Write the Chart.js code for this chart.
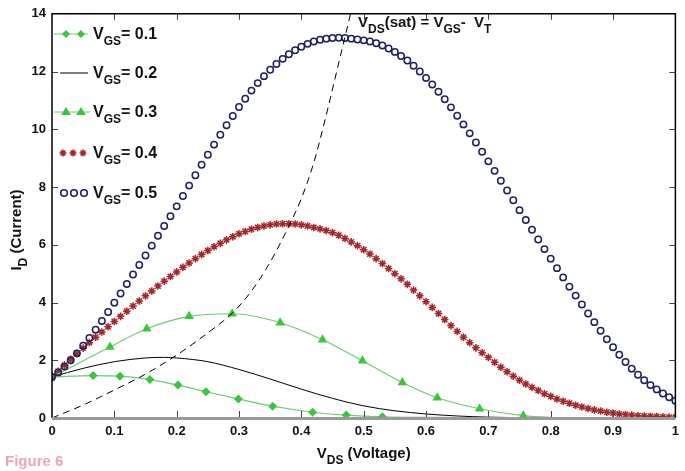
<!DOCTYPE html>
<html>
<head>
<meta charset="utf-8">
<script src="https://cdn.jsdelivr.net/npm/chart.js@4.4.1/dist/chart.umd.min.js"></script>
<style>
html,body{margin:0;padding:0;background:#fff;}
#ivChart{display:block;}
</style>
</head>
<body>
<canvas id="ivChart" width="685" height="471"></canvas>
<script>
// tick labels
const xTicks=[0,0.1,0.2,0.3,0.4,0.5,0.6,0.7,0.8,0.9,1];
const yTicks=[0,2,4,6,8,10,12,14];
const vgsLevels=["0.1","0.2","0.3","0.4","0.5"];

// VGS = 0.1 (diamonds)
const vdsA=[0,0.066,0.109,0.157,0.202,0.247,0.299,0.354,0.418,0.472,0.53,0.6,0.7,0.82];
const idA=[1.42,1.47,1.45,1.33,1.14,0.91,0.66,0.41,0.20,0.10,0.04,0.02,0.01,0];

// VGS = 0.2 (plain line)
const vdsB=[0,0.05,0.1,0.15,0.18,0.2,0.25,0.3,0.35,0.4,0.45,0.5,0.55,0.6,0.65,0.7,0.75,0.8];
const idB=[1.42,1.72,1.95,2.08,2.10,2.08,1.95,1.68,1.35,1.0,0.68,0.42,0.25,0.14,0.07,0.03,0.01,0];

// VGS = 0.3 (triangles)
const vdsC=[0,0.093,0.152,0.220,0.289,0.366,0.434,0.498,0.562,0.618,0.686,0.756,0.82];
const idC=[1.42,2.46,3.09,3.52,3.61,3.30,2.71,1.98,1.23,0.70,0.32,0.08,0];

// VGS = 0.4 and 0.5 share one VDS grid
const vdsGrid=[0,0.01,0.02,0.03,0.04,0.05,0.06,0.07,0.08,0.09,
0.10,0.11,0.12,0.13,0.14,0.15,0.16,0.17,0.18,0.19,
0.20,0.21,0.22,0.23,0.24,0.25,0.26,0.27,0.28,0.29,
0.30,0.31,0.32,0.33,0.34,0.35,0.36,0.37,0.38,0.39,
0.40,0.41,0.42,0.43,0.44,0.45,0.46,0.47,0.48,0.49,
0.50,0.51,0.52,0.53,0.54,0.55,0.56,0.57,0.58,0.59,
0.60,0.61,0.62,0.63,0.64,0.65,0.66,0.67,0.68,0.69,
0.70,0.71,0.72,0.73,0.74,0.75,0.76,0.77,0.78,0.79,
0.80,0.81,0.82,0.83,0.84,0.85,0.86,0.87,0.88,0.89,
0.90,0.91,0.92,0.93,0.94,0.95,0.96,0.97,0.98,0.99,1.00];

const idD=[1.40,1.62,1.83,2.03,2.23,2.42,2.61,2.80,2.98,3.16,
3.34,3.52,3.70,3.88,4.05,4.23,4.40,4.57,4.74,4.90,
5.06,5.22,5.37,5.52,5.66,5.80,5.93,6.05,6.17,6.28,
6.38,6.46,6.54,6.60,6.65,6.69,6.72,6.73,6.73,6.72,
6.69,6.65,6.60,6.55,6.49,6.42,6.33,6.22,6.10,5.97,
5.83,5.68,5.52,5.35,5.18,5.00,4.82,4.63,4.43,4.23,
4.03,3.83,3.62,3.41,3.20,3.00,2.80,2.61,2.43,2.26,
2.10,1.93,1.76,1.60,1.45,1.31,1.18,1.06,0.95,0.84,
0.75,0.66,0.58,0.51,0.44,0.38,0.33,0.28,0.24,0.20,
0.17,0.14,0.12,0.10,0.08,0.07,0.06,0.05,0.04,0.03,0.03];

const idE=[1.42,1.58,1.78,2.00,2.24,2.50,2.77,3.06,3.36,3.67,
3.99,4.31,4.64,4.97,5.30,5.63,5.97,6.31,6.65,6.99,
7.33,7.69,8.05,8.41,8.77,9.12,9.47,9.81,10.14,10.46,
10.77,11.06,11.34,11.60,11.84,12.06,12.26,12.44,12.60,12.74,
12.86,12.96,13.04,13.10,13.14,13.16,13.17,13.16,13.14,13.11,
13.08,13.04,12.98,12.90,12.80,12.68,12.54,12.38,12.20,12.00,
11.78,11.55,11.30,11.04,10.76,10.47,10.17,9.86,9.54,9.22,
8.89,8.56,8.22,7.88,7.54,7.20,6.86,6.52,6.18,5.85,
5.52,5.19,4.87,4.55,4.24,3.93,3.62,3.32,3.02,2.73,
2.45,2.19,1.94,1.71,1.50,1.31,1.14,0.99,0.85,0.72,0.60];

// VDS(sat) locus (dashed)
const vdsSat=[0,0.05,0.1,0.15,0.2,0.25,0.29,0.32,0.35,0.38,0.40,0.42,0.44,0.46,0.48,0.49];
const idSat=[0,0.45,0.97,1.52,2.18,2.95,3.65,4.4,5.4,6.65,7.6,8.85,10.5,12.3,14.1,15.0];

const pts=(xs,ys)=>xs.map((x,i)=>({x:x,y:ys[i]}));

const FONT='"Liberation Sans", Arial, sans-serif';
const GREEN="#3cc43c";
const GREEN_LINE="#74c874";
const RED="#a3282c";
const BLUE="#1d205c";

// text with subscripts: parts = [[text, isSub], ...]
function drawSub(ctx,parts,x,y,size,subSize){
  let cx=x;
  parts.forEach(p=>{
    ctx.font="bold "+(p[1]?subSize:size)+"px "+FONT;
    ctx.fillText(p[0],cx,p[1]?y+Math.round(size*0.4):y);
    cx+=ctx.measureText(p[0]).width;
  });
  return cx-x;
}

function measureSub(ctx,parts,size,subSize){
  let w=0;
  parts.forEach(p=>{
    ctx.font="bold "+(p[1]?subSize:size)+"px "+FONT;
    w+=ctx.measureText(p[0]).width;
  });
  return w;
}

function drawStar(ctx,px,y,r){
  ctx.beginPath();
  ctx.moveTo(px-r,y);ctx.lineTo(px+r,y);ctx.moveTo(px,y-r);ctx.lineTo(px,y+r);
  const d=r*0.7;
  ctx.moveTo(px-d,y-d);ctx.lineTo(px+d,y+d);ctx.moveTo(px-d,y+d);ctx.lineTo(px+d,y-d);
  ctx.stroke();
}

function legendMarker(ctx,i,x,y){
  ctx.save();
  if(i===0){
    ctx.strokeStyle=GREEN_LINE;ctx.lineWidth=1.2;
    ctx.beginPath();ctx.moveTo(x-2,y);ctx.lineTo(x+32,y);ctx.stroke();
    ctx.fillStyle=GREEN;
    [x+10,x+25].forEach(px=>{
      ctx.beginPath();ctx.moveTo(px,y-4);ctx.lineTo(px+4,y);ctx.lineTo(px,y+4);ctx.lineTo(px-4,y);ctx.closePath();ctx.fill();
    });
  }else if(i===1){
    ctx.strokeStyle="#000";ctx.lineWidth=1;
    ctx.beginPath();ctx.moveTo(x+4,y);ctx.lineTo(x+32,y);ctx.stroke();
  }else if(i===2){
    ctx.strokeStyle=GREEN_LINE;ctx.lineWidth=1.2;
    ctx.beginPath();ctx.moveTo(x-2,y);ctx.lineTo(x+34,y);ctx.stroke();
    ctx.fillStyle=GREEN;
    [x+10,x+25].forEach(px=>{
      ctx.beginPath();ctx.moveTo(px,y-5);ctx.lineTo(px+5,y+3);ctx.lineTo(px-5,y+3);ctx.closePath();ctx.fill();
    });
  }else if(i===3){
    ctx.strokeStyle=RED;ctx.lineWidth=1.6;
    [x+7,x+17,x+27].forEach(px=>drawStar(ctx,px,y,3.5));
  }else{
    ctx.strokeStyle=BLUE;ctx.lineWidth=1.6;
    [x+8,x+18,x+28].forEach(px=>{
      ctx.beginPath();ctx.arc(px,y,3.3,0,Math.PI*2);ctx.stroke();
    });
  }
  ctx.restore();
}

const decor={
  id:"decor",
  beforeDraw(chart){
    const ctx=chart.ctx;
    ctx.save();
    ctx.fillStyle="#fff";
    ctx.fillRect(0,0,chart.width,chart.height);
    ctx.restore();
  },
  afterDraw(chart){
    const ctx=chart.ctx;
    const a=chart.chartArea;
    const xs=chart.scales.x, ys=chart.scales.y;
    ctx.save();

    // inward ticks on all four sides
    ctx.strokeStyle="#444";ctx.lineWidth=1;
    xTicks.forEach(v=>{
      if(v===xTicks[0]||v===xTicks[xTicks.length-1])return;
      const px=Math.round(xs.getPixelForValue(v))+0.5;
      ctx.beginPath();ctx.moveTo(px,a.bottom);ctx.lineTo(px,a.bottom-7);
      ctx.moveTo(px,a.top);ctx.lineTo(px,a.top+6);ctx.stroke();
    });
    yTicks.forEach(v=>{
      if(v===yTicks[0]||v===yTicks[yTicks.length-1])return;
      const py=Math.round(ys.getPixelForValue(v))+0.5;
      ctx.beginPath();ctx.moveTo(a.left,py);ctx.lineTo(a.left+6,py);
      ctx.moveTo(a.right,py);ctx.lineTo(a.right-6,py);ctx.stroke();
    });

    // box
    ctx.strokeStyle="#000";ctx.lineWidth=1.5;
    ctx.beginPath();
    ctx.moveTo(a.left,a.bottom);ctx.lineTo(a.left,a.top);ctx.lineTo(a.right,a.top);ctx.lineTo(a.right,a.bottom);
    ctx.stroke();
    ctx.strokeStyle="#9a9a9a";ctx.lineWidth=3;
    ctx.beginPath();ctx.moveTo(a.left,a.bottom+0.5);ctx.lineTo(a.right,a.bottom+0.5);ctx.stroke();

    // legend
    ctx.fillStyle="#111";ctx.textBaseline="alphabetic";
    const legendY=[34,73,112,153,193];
    vgsLevels.forEach((lv,i)=>{
      legendMarker(ctx,i,56,legendY[i]);
      drawSub(ctx,[["V",false],["GS",true],["= "+lv,false]],93,legendY[i]+5,16,12);
    });

    // annotation
    ctx.fillStyle="#111";
    drawSub(ctx,[["V",false],["DS",true],["(sat) = V",false],["GS",true],["-  V",false],["T",true]],358,27,15,12);

    // x axis title
    const xParts=[["V",false],["DS",true],[" (Voltage)",false]];
    const xw=measureSub(ctx,xParts,15,12);
    drawSub(ctx,xParts,(a.left+a.right)/2-xw/2,458,15,12);

    // y axis title
    const yParts=[["I",false],["D",true],[" (Current)",false]];
    const yw=measureSub(ctx,yParts,15,12);
    ctx.save();
    ctx.translate(21,230);
    ctx.rotate(-Math.PI/2);
    drawSub(ctx,yParts,-yw/2,0,15,12);
    ctx.restore();

    // figure label
    ctx.fillStyle="#f2a1c4";
    ctx.font="bold 15px "+FONT;
    ctx.fillText("Figure 6",5,466);

    ctx.restore();
  }
};

new Chart(document.getElementById("ivChart"),{
  type:"scatter",
  data:{
    datasets:[
      {
        label:"VGS = 0.1",
        data:pts(vdsA,idA),
        showLine:true,
        borderColor:GREEN_LINE,borderWidth:1.2,
        cubicInterpolationMode:"monotone",
        pointStyle:"rectRot",
        pointRadius:c=>(c.dataIndex>0&&c.dataIndex<11)?4.5:0,
        pointBackgroundColor:GREEN,pointBorderColor:GREEN,pointBorderWidth:0,
        order:2
      },
      {
        label:"VGS = 0.2",
        data:pts(vdsB,idB),
        showLine:true,
        borderColor:"#000",borderWidth:1,
        cubicInterpolationMode:"monotone",
        pointRadius:0,
        order:3
      },
      {
        label:"VGS = 0.3",
        data:pts(vdsC,idC),
        showLine:true,
        borderColor:GREEN_LINE,borderWidth:1.2,
        cubicInterpolationMode:"monotone",
        pointStyle:"triangle",
        pointRadius:c=>(c.dataIndex>0&&c.dataIndex<12)?5.5:0,
        pointBackgroundColor:GREEN,pointBorderColor:GREEN,pointBorderWidth:0,
        order:4
      },
      {
        label:"VGS = 0.4",
        data:pts(vdsGrid,idD),
        showLine:false,
        pointStyle:"star",
        pointRadius:3.8,
        pointBorderColor:RED,pointBorderWidth:1.5,
        pointBackgroundColor:RED,
        order:5
      },
      {
        label:"VGS = 0.5",
        data:pts(vdsGrid,idE),
        showLine:false,
        pointStyle:"circle",
        pointRadius:3.2,
        pointBorderColor:BLUE,pointBorderWidth:1.5,
        pointBackgroundColor:"rgba(0,0,0,0)",
        order:1
      },
      {
        label:"VDS(sat)",
        data:pts(vdsSat,idSat),
        showLine:true,
        borderColor:"#000",borderWidth:1,
        borderDash:[7,5],
        cubicInterpolationMode:"monotone",
        pointRadius:0,
        order:0
      }
    ]
  },
  options:{
    responsive:false,
    animation:false,
    devicePixelRatio:1,
    layout:{padding:{top:12,right:8,left:0,bottom:0}},
    plugins:{
      legend:{display:false},
      tooltip:{enabled:false}
    },
    scales:{
      x:{
        type:"linear",
        min:0,max:1,
        afterBuildTicks:s=>{s.ticks=xTicks.map(v=>({value:v}));},
        afterFit:s=>{s.height=53;},
        grid:{display:false,drawTicks:false},
        border:{display:false},
        ticks:{
          padding:6,
          color:"#111",
          font:{family:FONT,size:13,weight:"bold"},
          maxRotation:0,
          callback:v=>String(v)
        }
      },
      y:{
        type:"linear",
        min:0,max:14,
        afterBuildTicks:s=>{s.ticks=yTicks.map(v=>({value:v}));},
        afterFit:s=>{s.width=52;},
        grid:{display:false,drawTicks:false},
        border:{display:false},
        ticks:{
          padding:6,
          color:"#111",
          font:{family:FONT,size:13,weight:"bold"},
          callback:v=>String(v)
        }
      }
    }
  },
  plugins:[decor]
});
</script>
</body>
</html>
